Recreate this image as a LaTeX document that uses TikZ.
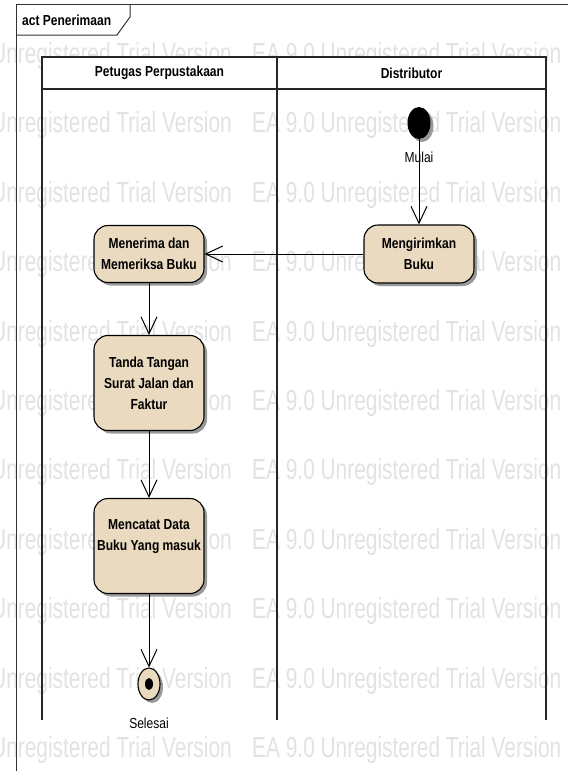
\documentclass[tikz,border=0pt]{standalone}
\usepackage{fontspec}
\setmainfont{Liberation Sans}
\newfontfamily\cnd[FakeStretch=0.83]{Liberation Sans}
\newfontfamily\wmk[FakeStretch=0.72]{Liberation Sans}
\usetikzlibrary{arrows.meta,shadows,shapes.geometric}
\definecolor{actfill}{RGB}{234,218,191}
\definecolor{wmgray}{RGB}{226,226,226}
\begin{document}
\begin{tikzpicture}[x=1pt,y=-1pt,
  lane/.style={draw=black!85, line width=1.2pt},
  shad/.style={drop shadow={shadow xshift=3pt, shadow yshift=-3pt, fill=black!40, opacity=1}},
  action/.style={draw=black, line width=1.1pt, fill=actfill, rounded corners=14pt,
    minimum width=110pt, inner sep=2pt, align=center,
    font=\cnd\bfseries\fontsize{14.5}{21}\selectfont, shad},
  flow/.style={draw=black, line width=1pt, -{Straight Barb[length=17pt,width=16pt,line width=1pt]}},
  wm/.style={text=wmgray, font=\wmk\fontsize{29}{30}\selectfont, inner sep=0pt},
  lbl/.style={font=\cnd\fontsize{14.5}{17}\selectfont, inner sep=0pt},
  blbl/.style={font=\cnd\bfseries\fontsize{14.5}{17}\selectfont, inner sep=0pt}
]
\useasboundingbox (0,0) rectangle (568,771);
% watermark
\begin{scope}
\clip (0,0) rectangle (568,771);
\foreach \i [evaluate=\i as \yy using 56+69.4*\i] in {0,...,10} {
  \node[wm, anchor=east] (wl\i) at (232,\yy) {Unregistered Trial Version};
  \node[wm, anchor=west] (wr\i) at (252,\yy) {EA 9.0 Unregistered Trial Version};
}
\end{scope}
% frame
\draw[line width=1pt, black!80] (16,771) -- (16,4) -- (568,4);
\draw[line width=1pt, black!80] (16,35) -- (117,35) -- (130,17) -- (130,4);
\node[blbl, anchor=west] (title) at (22,20) {act Penerimaan};
% lanes
\draw[lane, fill=white] (42,57) rectangle (277,89);
\draw[lane, fill=white] (277,57) rectangle (546,89);
\draw[lane] (42,89) -- (42,720);
\draw[lane] (277,89) -- (277,720);
\draw[lane] (546,89) -- (546,720);
\node[blbl] (lane1) at (159.5,73) {Petugas Perpustakaan};
\node[blbl] (lane2) at (411.5,73) {Distributor};
% nodes
\node[ellipse, fill=black, minimum width=23pt, minimum height=32pt, inner sep=0pt, shad] (start) at (419,123) {};
\node[lbl] (mulai) at (419,157) {Mulai};
\node[action, minimum height=58pt] (kirim) at (419,254) {Mengirimkan\\Buku};
\node[action, minimum height=57pt] (terima) at (149,254) {Menerima dan\\Memeriksa Buku};
\node[action, minimum height=95pt] (tanda) at (149,383) {Tanda Tangan\\Surat Jalan dan\\Faktur};
\node[action, minimum height=95pt] (catat) at (149,546) {Mencatat Data\\Buku Yang masuk\\\mbox{}};
\node[ellipse, draw=black, line width=1.1pt, fill=actfill, minimum width=22pt, minimum height=32pt, inner sep=0pt, shad] (end) at (149,684) {};
\node[ellipse, fill=black, minimum width=8pt, minimum height=12pt, inner sep=0pt] (enddot) at (end.center) {};
\node[lbl] (selesai) at (149,723) {Selesai};
% flows
\draw[flow] (start) -- (kirim);
\draw[flow] (kirim.west) -- (terima.east);
\draw[flow] (terima) -- (tanda);
\draw[flow] (tanda) -- (catat);
\draw[flow] (catat) -- (end);
\end{tikzpicture}
\end{document}
